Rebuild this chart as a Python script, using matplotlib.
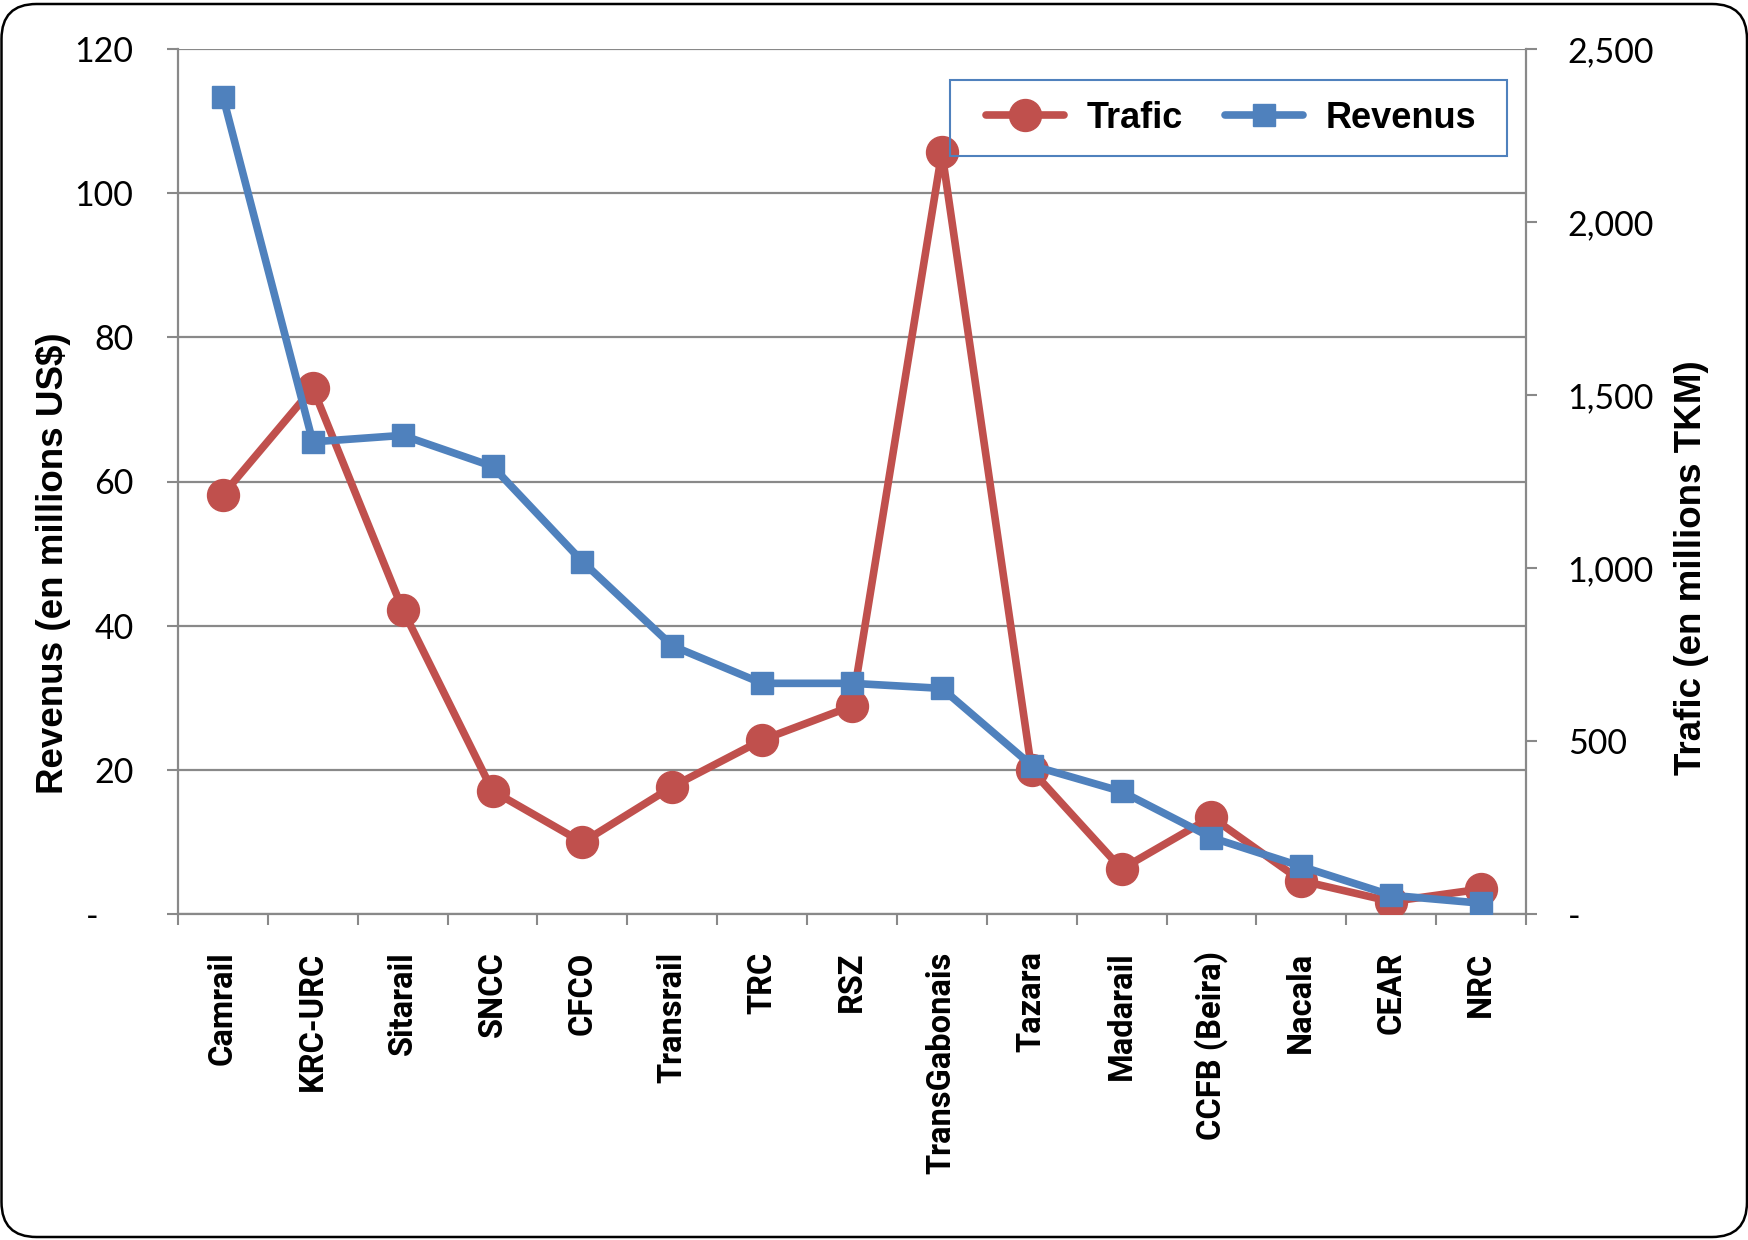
import matplotlib
matplotlib.use("Agg")
import matplotlib.pyplot as plt
from matplotlib.ticker import FuncFormatter, FixedLocator
from matplotlib.patches import FancyBboxPatch, Rectangle
from matplotlib.lines import Line2D

plt.rcParams['font.family'] = ['Lato', 'DejaVu Sans']

# data
reseaux = ['Camrail', 'KRC-URC', 'Sitarail', 'SNCC', 'CFCO', 'Transrail', 'TRC',
           'RSZ', 'TransGabonais', 'Tazara', 'Madarail', 'CCFB (Beira)',
           'Nacala', 'CEAR', 'NRC']
revenus = [113.4, 65.5, 66.4, 62.1, 48.9, 37.2, 32.0, 32.0, 31.3, 20.6, 17.0,
           10.6, 6.6, 2.6, 1.5]
trafic = [1212, 1520, 880, 356, 207, 368, 503, 601, 2202, 415, 130, 280, 96,
          36, 72]
rev_ticks = [0, 20, 40, 60, 80, 100, 120]
traf_ticks = [0, 500, 1000, 1500, 2000, 2500]

RED = '#C0504D'
BLUE = '#4F81BD'
GREY = '#898989'
W, H = 1749, 1240
LW = 5.5

fig = plt.figure(figsize=(W / 100, H / 100), dpi=100)
ax = fig.add_axes([178 / W, 1 - 914 / H, (1526 - 178) / W, (914 - 49) / H])

x = list(range(len(reseaux)))

# left axis: grid, ticks
ax.set_xlim(-0.5, len(reseaux) - 0.5)
ax.set_ylim(0, 120)
ax.set_yticks(rev_ticks)
ax.yaxis.set_major_formatter(FuncFormatter(lambda v, p: '-    ' if v == 0 else f'{v:.0f}'))
ax.grid(axis='y', color=GREY, lw=1.6)
ax.set_axisbelow(True)
ax.tick_params(axis='y', direction='out', length=8, width=1.5, color=GREY,
               labelsize=24.5, pad=24)
ax.set_xticks(x)
ax.set_xticklabels(reseaux, rotation=90, fontsize=23.5, fontweight='bold',
                   family='Roboto')
ax.tick_params(axis='x', which='major', length=0, pad=27)
ax.xaxis.set_minor_locator(FixedLocator([i - 0.5 for i in range(len(reseaux) + 1)]))
ax.tick_params(axis='x', which='minor', direction='out', length=8, width=1.5,
               color=GREY)
for s in ['top', 'right']:
    ax.spines[s].set_visible(False)
for s in ['left', 'bottom']:
    ax.spines[s].set_color(GREY)
    ax.spines[s].set_linewidth(1.6)

# right axis: trafic
ax2 = ax.twinx()
ax2.plot(x, trafic, color=RED, lw=LW, marker='o', ms=23, mec=RED, mew=1,
         label='Trafic')
ax2.set_ylim(0, 2500)
ax2.set_yticks(traf_ticks)
ax2.yaxis.set_major_formatter(FuncFormatter(lambda v, p: '-' if v == 0 else f'{v:,.0f}'))
ax2.tick_params(axis='y', direction='out', length=8, width=1.5, color=GREY,
                labelsize=24.5, pad=22)
for s in ['top', 'left', 'bottom']:
    ax2.spines[s].set_visible(False)
ax2.spines['right'].set_color(GREY)
ax2.spines['right'].set_linewidth(1.6)

# revenus drawn above trafic, on the left scale
ax3 = ax.twinx()
ax3.set_ylim(ax.get_ylim())
ax3.axis('off')
ax3.plot(x, revenus, color=BLUE, lw=LW, marker='s', ms=16, mec=BLUE, mew=1,
         label='Revenus')

fig.text(54 / W, 1 - 563 / H, 'Revenus (en millions US$)', rotation=90,
         ha='center', va='center', fontsize=26.5, fontweight='bold',
         family='Liberation Sans')
fig.text(1692 / W, 1 - 568 / H, 'Trafic (en millions TKM)', rotation=90,
         ha='center', va='center', fontsize=26.5, fontweight='bold',
         family='Liberation Sans')

# legend: entries without frame, box drawn separately
handles = [Line2D([], [], color=RED, lw=LW, marker='o', ms=23, mec=RED,
                  solid_capstyle='round'),
           Line2D([], [], color=BLUE, lw=LW, marker='s', ms=16, mec=BLUE,
                  solid_capstyle='round')]
leg = fig.legend(handles, ['Trafic', 'Revenus'], ncol=2, loc='center left',
                 bbox_to_anchor=(986 / W, 1 - 118 / H), borderaxespad=0,
                 borderpad=0, handlelength=2.15, handletextpad=0.65,
                 columnspacing=1.15, frameon=False,
                 prop={'family': 'Liberation Sans', 'weight': 'bold', 'size': 26})
fig.patches.append(Rectangle((950 / W, 1 - 156 / H), 557 / W, 76 / H,
                             transform=fig.transFigure, facecolor='none',
                             edgecolor=BLUE, lw=1.5, zorder=6))

frame = FancyBboxPatch((1.5 / W, 3 / H), (1747 - 1.5) / W, (1237 - 4) / H,
                       boxstyle='round,pad=0,rounding_size=0.02',
                       mutation_aspect=W / H, transform=fig.transFigure,
                       facecolor='none', edgecolor='black', lw=1.8)
fig.patches.append(frame)

fig.savefig('out.png', dpi=100)
